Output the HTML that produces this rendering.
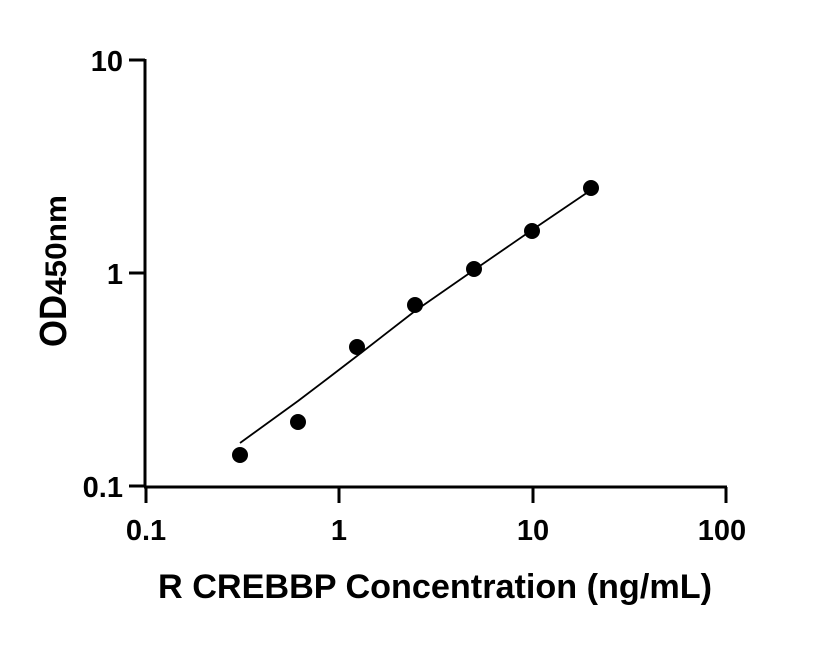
<!DOCTYPE html>
<html><head><style>body{margin:0;background:#fff}</style></head><body>
<svg width="816" height="640" xmlns="http://www.w3.org/2000/svg" font-family="Liberation Sans, sans-serif" font-weight="bold">
<g stroke="#000" stroke-width="3" fill="none">
<line x1="145" y1="59" x2="145" y2="487"/>
<line x1="144" y1="487" x2="727" y2="487"/>
<line x1="129" y1="60" x2="145" y2="60"/>
<line x1="129" y1="273" x2="145" y2="273"/>
<line x1="129" y1="486" x2="145" y2="486"/>
<line x1="146" y1="487" x2="146" y2="503"/>
<line x1="339" y1="487" x2="339" y2="503"/>
<line x1="533" y1="487" x2="533" y2="503"/>
<line x1="726" y1="487" x2="726" y2="503"/>
</g>
<g font-size="29" text-anchor="end">
<text x="123" y="71">10</text>
<text x="123" y="284">1</text>
<text x="123" y="497">0.1</text>
</g>
<g font-size="29" text-anchor="middle">
<text x="146" y="540">0.1</text>
<text x="339" y="540">1</text>
<text x="533" y="540">10</text>
<text x="722" y="540">100</text>
</g>
<text x="158" y="598" font-size="34" textLength="554" lengthAdjust="spacingAndGlyphs">R CREBBP Concentration (ng/mL)</text>
<text transform="translate(66,347) rotate(-90)" font-size="38"><tspan textLength="52" lengthAdjust="spacingAndGlyphs">OD</tspan><tspan font-size="30" textLength="100" lengthAdjust="spacingAndGlyphs">450nm</tspan></text>
<path d="M240,443 L269,422 L298,401 L327,379 L357,356 L415,311 L474,270 L532,230 L591,190" stroke="#000" stroke-width="1.8" fill="none" stroke-linejoin="round"/>
<g fill="#000">
<circle cx="240" cy="455" r="8"/>
<circle cx="298" cy="422" r="8"/>
<circle cx="357" cy="347" r="8"/>
<circle cx="415" cy="305" r="8"/>
<circle cx="474" cy="269" r="8"/>
<circle cx="532" cy="231" r="8"/>
<circle cx="591" cy="188" r="8"/>
</g>
</svg>
</body></html>
